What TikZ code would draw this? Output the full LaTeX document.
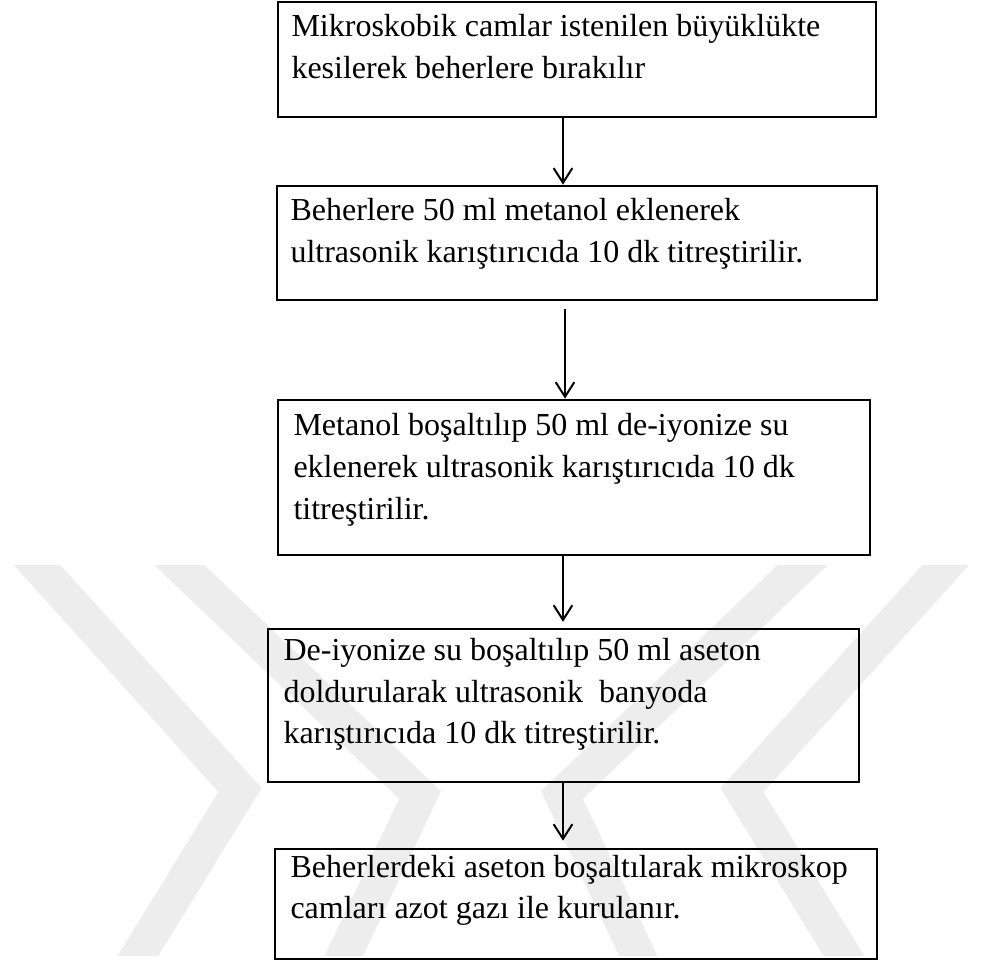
\documentclass[tikz,border=0pt]{standalone}
\usepackage{fontspec}
\setmainfont{Liberation Serif}
\usetikzlibrary{arrows.meta,fit}
\begin{document}
\begin{tikzpicture}[x=0.375pt,y=-0.375pt,
  box/.style={draw, line width=1pt, inner sep=0pt},
  txt/.style={anchor=base west, inner sep=0pt, font=\fontsize{12}{15.6}\selectfont},
  arr/.style={line width=0.75pt, -{Straight Barb[length=5.5pt,width=7pt]}},
  wm/.style={line width=13pt, draw=black!7, line join=miter, miter limit=10}]
\useasboundingbox (0,0) rectangle (983,967);
% watermark
\begin{scope}
  \clip (0,565) rectangle (983,955);
  \draw[wm] (10,535) -- (240,790) -- (120,985);
  \draw[wm] (148,535) -- (420,795) -- (330,985);
  \draw[wm] (973,535) -- (742,790) -- (862,985);
  \draw[wm] (834,535) -- (562,795) -- (652,985);
\end{scope}
% boxes
\node[box, fit={(278,2) (876,117)}] (b1) {};
\node[box, fit={(277,186) (877,300)}] (b2) {};
\node[box, fit={(278,400) (870,555)}] (b3) {};
\node[box, fit={(268,629) (859,782)}] (b4) {};
\node[box, fit={(275,849) (877,959)}] (b5) {};
% texts
\node[txt] (t1a) at (291,36) {Mikroskobik camlar istenilen büyüklükte};
\node[txt] (t1b) at (291,78) {kesilerek beherlere bırakılır};
\node[txt] (t2a) at (290,220) {Beherlere 50 ml metanol eklenerek};
\node[txt] (t2b) at (290,262) {ultrasonik karıştırıcıda 10 dk titreştirilir.};
\node[txt] (t3a) at (293,435) {Metanol boşaltılıp 50 ml de-iyonize su};
\node[txt] (t3b) at (293,477) {eklenerek ultrasonik karıştırıcıda 10 dk};
\node[txt] (t3c) at (293,519) {titreştirilir.};
\node[txt] (t4a) at (283,660) {De-iyonize su boşaltılıp 50 ml aseton};
\node[txt] (t4b) at (283,702) {doldurularak ultrasonik\ \ banyoda};
\node[txt] (t4c) at (283,743) {karıştırıcıda 10 dk titreştirilir.};
\node[txt] (t5a) at (290,877) {Beherlerdeki aseton boşaltılarak mikroskop};
\node[txt] (t5b) at (290,918) {camları azot gazı ile kurulanır.};
% connectors
\coordinate (x1) at (563,0);
\coordinate (x2) at (565,0);
\draw[arr] (b1.south -| x1) -- (b2.north -| x1);
\draw[arr, shorten <=3pt] (b2.south -| x2) -- (b3.north -| x2);
\draw[arr, shorten >=2.2pt] (b3.south -| x1) -- (b4.north -| x1);
\draw[arr, shorten >=2.6pt] (b4.south -| x1) -- (b5.north -| x1);
\end{tikzpicture}
\end{document}
